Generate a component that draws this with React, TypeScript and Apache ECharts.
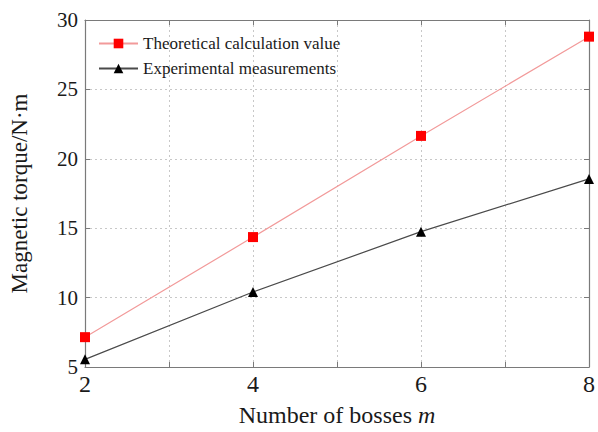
import React, { useEffect, useRef } from "react";
import * as echarts from "echarts";

const bosses = [2, 4, 6, 8];
const theoretical = [7.15, 14.36, 21.65, 28.8];
const experimental = [5.55, 10.4, 14.75, 18.55];
const seriesNames = ["Theoretical calculation value", "Experimental measurements"];

const FONT = "Liberation Serif";

export default function App() {
  const ref = useRef<HTMLDivElement>(null);
  useEffect(() => {
    if (!ref.current) return;
    document.body.style.margin = "0";
    document.documentElement.style.overflow = "hidden";
    const chart = echarts.init(ref.current, undefined, { renderer: "svg" });
    const axisLine = { show: true, lineStyle: { color: "#7a7a7a", width: 1.2 } };
    const split = { show: true, lineStyle: { color: "#c8c8c8", type: [2, 3] as any, width: 1 } };
    const tick = { show: true, inside: true, length: 5, lineStyle: { color: "#7a7a7a" } };
    chart.setOption({
      animation: false,
      backgroundColor: "#ffffff",
      textStyle: { fontFamily: FONT },
      grid: { left: 85, right: 5, top: 20, bottom: 59, containLabel: false },
      legend: {
        orient: "vertical",
        left: 93,
        top: 30,
        itemWidth: 39,
        itemHeight: 12,
        itemGap: 8,
        textStyle: { fontFamily: FONT, fontSize: 17, color: "#1a1a1a" },
        data: seriesNames,
      },
      xAxis: [
        {
          type: "value",
          min: 2,
          max: 8,
          interval: 1,
          name: "Number of bosses {i|m}",
          nameLocation: "middle",
          nameGap: 36,
          nameTextStyle: {
            fontFamily: FONT,
            fontSize: 24,
            color: "#1a1a1a",
            rich: { i: { fontFamily: FONT, fontSize: 24, fontStyle: "italic", color: "#1a1a1a" } },
          },
          axisLine,
          axisTick: tick,
          axisLabel: {
            fontFamily: FONT,
            fontSize: 24,
            color: "#1a1a1a",
            margin: 5,
            formatter: (v: number) => (v % 2 === 0 ? String(v) : ""),
          },
          splitLine: split,
        },
        {
          type: "value",
          position: "top",
          min: 2,
          max: 8,
          interval: 1,
          axisLine,
          axisTick: tick,
          axisLabel: { show: false },
          splitLine: { show: false },
        },
      ],
      yAxis: [
        {
          type: "value",
          min: 5,
          max: 30,
          interval: 5,
          name: "Magnetic torque/N·m",
          nameLocation: "middle",
          nameGap: 54,
          nameTextStyle: { fontFamily: FONT, fontSize: 23, color: "#1a1a1a" },
          axisLine,
          axisTick: tick,
          axisLabel: { fontFamily: FONT, fontSize: 21, color: "#1a1a1a", margin: 7 },
          splitLine: split,
        },
        {
          type: "value",
          position: "right",
          min: 5,
          max: 30,
          interval: 5,
          axisLine,
          axisTick: tick,
          axisLabel: { show: false },
          splitLine: { show: false },
        },
      ],
      series: [
        {
          name: seriesNames[0],
          type: "line",
          data: bosses.map((x, i) => [x, theoretical[i]]),
          symbol: "rect",
          symbolSize: 10,
          itemStyle: { color: "#ff0000" },
          lineStyle: { color: "#f29a9a", width: 1.2 },
        },
        {
          name: seriesNames[1],
          type: "line",
          data: bosses.map((x, i) => [x, experimental[i]]),
          symbol: "triangle",
          symbolSize: 10,
          itemStyle: { color: "#000000" },
          lineStyle: { color: "#4a4a4a", width: 1.2 },
        },
      ],
    });
    return () => chart.dispose();
  }, []);
  return <div ref={ref} style={{ width: 598, height: 432, position: "fixed", left: 0, top: 0 }} />;
}
